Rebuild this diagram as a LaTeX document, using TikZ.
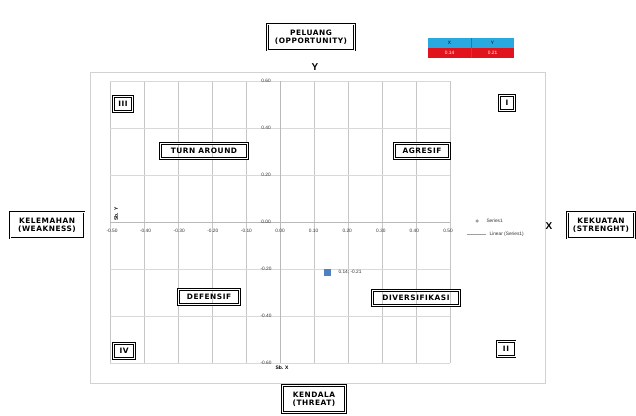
\documentclass[tikz,border=0pt]{standalone}
\usepackage{fontspec}
\setmainfont{Liberation Sans}
\newfontfamily\boxfont[LetterSpace=7]{DejaVu Sans}
\definecolor{ptblue}{RGB}{79,129,189}
\definecolor{tabcyan}{RGB}{40,170,225}
\definecolor{tabred}{RGB}{225,20,30}
\begin{document}
\begin{tikzpicture}[x=1pt,y=-1pt,
  dbox/.style={draw, double=white, double distance=0.8pt, line width=0.75pt, font=\boxfont\bfseries\fontsize{7.4}{7.8}\selectfont, align=center, inner sep=2pt},
  qbox/.style={dbox, minimum height=15pt},
  grid/.style={draw=gray!45, line width=0.45pt},
  tick/.style={font=\fontsize{4.8}{5.2}\selectfont, text=black!80},
  axl/.style={font=\bfseries\fontsize{10}{10}\selectfont}]
\useasboundingbox (0,0) rectangle (636,415);
\fill[white] (0,0) rectangle (636,415);
% chart frame
\draw[gray!35, line width=0.6pt] (90,72) rectangle (545,383);
% grid
\foreach \i in {0,...,10} {\draw[grid] ({110+34*\i},81) -- ({110+34*\i},363);}
\foreach \j in {0,...,6} {\draw[grid, draw=gray!30] (110,{81+47*\j}) -- (450,{81+47*\j});}
% axes
\draw[gray!55, line width=0.45pt] (110,222) -- (450,222);
\draw[gray!55, line width=0.45pt] (280,81) -- (280,363);
% x tick labels
\foreach \v [count=\i from 0] in {-0.50,-0.40,-0.30,-0.20,-0.10,0.00,0.10,0.20,0.30,0.40,0.50}
  {\node[tick] (xt\i) at ({112+33.6*\i},231) {\v};}
% y tick labels
\foreach \v [count=\j from 0] in {0.60,0.40,0.20,0.00,-0.20,-0.40,-0.60}
  {\node[tick] (yt\j) at (266,{81+47*\j}) {\v};}
% axis titles
\node[rotate=90, font=\bfseries\fontsize{5}{5}\selectfont] (ytitle) at (116,214) {Sb. Y};
\node[font=\bfseries\fontsize{5}{5}\selectfont] (xtitle) at (282,368) {Sb. X};
% data point
\node[fill=ptblue, minimum size=7pt, inner sep=0pt] (pt) at (327,272) {};
\node[tick, anchor=west] (ptl) at (335,272) {0.14; -0.21};
% legend
\node[circle, fill=gray!75, inner sep=0pt, minimum size=3.5pt] (lgm) at (477,221) {};
\node[tick, anchor=west] (lg1) at (483,221) {Series1};
\coordinate (lga) at (467,234);
\coordinate (lgb) at (486,234);
\draw[gray!75, line width=0.5pt] (lga) -- (lgb);
\node[tick, anchor=west] (lg2) at (486,234) {Linear (Series1)};
% quadrant labels
\node[qbox, minimum width=19pt] (q3) at (123,104) {III};
\node[qbox, minimum width=15pt] (q1) at (507,103) {I};
\node[qbox, minimum width=21pt] (q4) at (124,351) {IV};
\node[qbox, minimum width=18pt] (q2) at (506,349) {II};
\node[qbox, minimum width=87pt] (ta) at (204,151) {TURN AROUND};
\node[qbox, minimum width=55pt] (ag) at (422,151) {AGRESIF};
\node[qbox, minimum width=61pt] (df) at (209,297) {DEFENSIF};
\node[qbox, minimum width=87pt] (dv) at (416,298) {DIVERSIFIKASI};
% outer labels
\node[dbox, minimum width=87pt, minimum height=26pt] (op) at (311,37) {PELUANG\\(OPPORTUNITY)};
\node[axl] (ylab) at (315,67) {Y};
\node[dbox, minimum width=74pt, minimum height=26pt] (wk) at (47,225) {KELEMAHAN\\(WEAKNESS)};
\node[dbox, minimum width=67pt, minimum height=26pt] (st) at (601,225) {KEKUATAN\\(STRENGHT)};
\node[axl] (xlab) at (549,226) {X};
\node[dbox, minimum width=63pt, minimum height=27pt] (th) at (314,399) {KENDALA\\(THREAT)};
% table
\fill[tabcyan] (428,38) rectangle (514,48);
\fill[tabred] (428,48) rectangle (514,58);
\draw[black!60, line width=0.3pt] (471,38) -- (471,58);
\node[tick, text=black] (tx) at (449.5,43) {X};
\node[tick, text=black] (ty) at (492.5,43) {Y};
\node[tick, text=white] (vx) at (449.5,53) {0.14};
\node[tick, text=white] (vy) at (492.5,53) {0.21};
\end{tikzpicture}
\end{document}
